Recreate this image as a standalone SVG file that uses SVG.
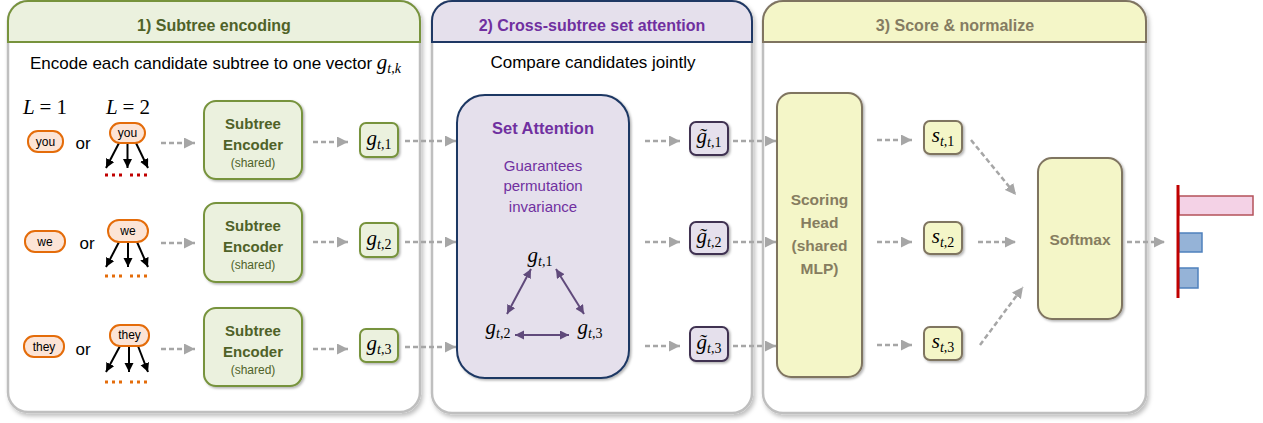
<svg xmlns="http://www.w3.org/2000/svg" width="1263" height="423" viewBox="0 0 1263 423">
<defs>
<filter id="sh" x="-10%" y="-10%" width="130%" height="130%"><feDropShadow dx="2" dy="3" stdDeviation="2" flood-color="#000" flood-opacity="0.25"/></filter>
<filter id="bs" x="-20%" y="-20%" width="150%" height="150%"><feDropShadow dx="1.5" dy="1.5" stdDeviation="1.2" flood-color="#000" flood-opacity="0.3"/></filter>
<marker id="ga" markerUnits="userSpaceOnUse" markerWidth="12" markerHeight="11" refX="11" refY="5.5" orient="auto"><path d="M0,0 L11,5.5 L0,11 Z" fill="#A6A6A6"/></marker>
<marker id="ka" markerUnits="userSpaceOnUse" markerWidth="10" markerHeight="10" refX="9" refY="4.5" orient="auto"><path d="M0,0 L9,4.5 L0,9 Z" fill="#000"/></marker>
<marker id="pa" markerUnits="userSpaceOnUse" markerWidth="10" markerHeight="10" refX="9" refY="4.5" orient="auto-start-reverse"><path d="M0,0 L9,4.5 L0,9 Z" fill="#604A7B"/></marker>
</defs>
<style>
text{font-family:"Liberation Sans",Arial,sans-serif}
.panel{fill:#fff;stroke:#BFBFBF;stroke-width:2.5}
.t1{font-size:16px;font-weight:bold;fill:#4F6228;text-anchor:middle}
.t2{font-size:16px;font-weight:bold;fill:#7030A0;text-anchor:middle}
.t3{font-size:16px;font-weight:bold;fill:#857C62;text-anchor:middle}
.sub{font-size:17px;fill:#000}
.pill{fill:#FCE4D6;stroke:#E46C0A;stroke-width:2}
.pt{font-size:12px;fill:#000;text-anchor:middle}
.or{font-size:17px;fill:#000;text-anchor:middle}
.tree{stroke:#000;stroke-width:2;fill:none;marker-end:url(#ka)}
.dr{stroke:#C00000;stroke-width:3;stroke-dasharray:3 4;fill:none}
.do{stroke:#E46C0A;stroke-width:3;stroke-dasharray:3 4;fill:none}
.enc{fill:#EBF1DE;stroke:#77933C;stroke-width:2}
.et{font-size:15px;font-weight:bold;fill:#4F6228;text-anchor:middle}
.es{font-size:12px;fill:#4F6228;text-anchor:middle}
.gb{fill:#EBF1DE;stroke:#77933C;stroke-width:2}
.gt{fill:#E5E0EC;stroke:#3F3151;stroke-width:2}
.sb{fill:#F4F6C8;stroke:#7F7460;stroke-width:2}
.m{font-family:"Liberation Serif","DejaVu Serif",serif;font-style:italic;font-size:21px;fill:#000;text-anchor:middle}
.s{font-size:14px}
.n{font-style:normal}
.conn{stroke:#A6A6A6;stroke-width:2.5;stroke-dasharray:5 3;fill:none;marker-end:url(#ga)}
.pl{stroke:#604A7B;stroke-width:2;fill:none;marker-start:url(#pa);marker-end:url(#pa)}
.pur{font-size:15px;fill:#7030A0;text-anchor:middle}
.yt{font-size:15.5px;font-weight:bold;fill:#867D60;text-anchor:middle}
</style>
<rect width="1263" height="423" fill="#fff"/>

<g id="panel1">
<rect class="panel" x="8" y="1" width="412" height="411" rx="20" filter="url(#sh)"/>
<path d="M8,42 V21 A20,20 0 0 1 28,1 H400 A20,20 0 0 1 420,21 V42 Z" fill="#EBF1DE" stroke="#77933C" stroke-width="2"/>
<text class="t1" x="214" y="31">1) Subtree encoding</text>
<text class="sub" x="30" y="69">Encode each candidate subtree to one vector <tspan class="m" font-size="21">g<tspan class="s" dy="4">t<tspan class="n">,</tspan>k</tspan></tspan></text>
<text class="m" x="45" y="114" font-size="16.5">L <tspan class="n">= 1</tspan></text>
<text class="m" x="128" y="114" font-size="16.5">L <tspan class="n">= 2</tspan></text>
</g>
<g id="panel2">
<rect class="panel" x="432" y="1" width="320" height="412" rx="20" filter="url(#sh)"/>
<path d="M432,42 V21 A20,20 0 0 1 452,1 H732 A20,20 0 0 1 752,21 V42 Z" fill="#E5E0EC" stroke="#1F3864" stroke-width="2"/>
<text class="t2" x="592" y="31">2) Cross-subtree set attention</text>
<text class="sub" x="593" y="68" text-anchor="middle">Compare candidates jointly</text>
</g>
<g id="panel3">
<rect class="panel" x="763" y="1" width="383" height="412" rx="20" filter="url(#sh)"/>
<path d="M763,42 V21 A20,20 0 0 1 783,1 H1126 A20,20 0 0 1 1146,21 V42 Z" fill="#F4F6C8" stroke="#7F7460" stroke-width="2"/>
<text class="t3" x="955" y="31">3) Score &amp; normalize</text>
</g>

<g id="inputs">
<g id="in1">
<rect class="pill" x="28" y="131" width="35" height="21" rx="10"/><text class="pt" x="45.5" y="146">you</text>
<text class="or" x="83" y="149">or</text>
<line class="tree" x1="119" y1="143" x2="106" y2="168"/><line class="tree" x1="127.5" y1="143" x2="127.5" y2="168"/><line class="tree" x1="136" y1="143" x2="148" y2="168"/>
<rect class="pill" x="110" y="123" width="35" height="20" rx="10"/><text class="pt" x="127.5" y="137">you</text>
<path class="dr" d="M105,175 H122 M130,175 H147"/>
</g>
<g id="in2">
<rect class="pill" x="25" y="231" width="40" height="21" rx="10"/><text class="pt" x="45" y="246">we</text>
<text class="or" x="87" y="249">or</text>
<line class="tree" x1="119" y1="242" x2="106" y2="267"/><line class="tree" x1="128" y1="242" x2="128" y2="267"/><line class="tree" x1="137" y1="242" x2="148" y2="267"/>
<rect class="pill" x="108" y="220" width="40" height="22" rx="11"/><text class="pt" x="128" y="235">we</text>
<path class="do" d="M105,276 H122 M130,276 H147"/>
</g>
<g id="in3">
<rect class="pill" x="24" y="336" width="40" height="21" rx="10"/><text class="pt" x="44" y="351">they</text>
<text class="or" x="83" y="355">or</text>
<line class="tree" x1="120" y1="346" x2="106" y2="372"/><line class="tree" x1="129" y1="346" x2="129" y2="372"/><line class="tree" x1="138" y1="346" x2="148" y2="372"/>
<rect class="pill" x="110" y="325" width="39" height="21" rx="10"/><text class="pt" x="129.5" y="339">they</text>
<path class="do" d="M105,382 H122 M130,382 H147"/>
</g>
</g>

<g id="encoder1"><rect class="enc" x="204" y="101" width="98" height="78" rx="12" filter="url(#bs)"/>
<text class="et" x="253" y="129">Subtree</text><text class="et" x="253" y="150">Encoder</text><text class="es" x="253" y="167">(shared)</text></g>
<g id="encoder2"><rect class="enc" x="204" y="203" width="98" height="79" rx="12" filter="url(#bs)"/>
<text class="et" x="253" y="231">Subtree</text><text class="et" x="253" y="252">Encoder</text><text class="es" x="253" y="269">(shared)</text></g>
<g id="encoder3"><rect class="enc" x="204" y="308" width="98" height="78" rx="12" filter="url(#bs)"/>
<text class="et" x="253" y="336">Subtree</text><text class="et" x="253" y="357">Encoder</text><text class="es" x="253" y="374">(shared)</text></g>

<g id="g1"><rect class="gb" x="360" y="123" width="38" height="34" rx="6" filter="url(#bs)"/><text class="m" x="379" y="145">g<tspan class="s" dy="4">t<tspan class="n">,1</tspan></tspan></text></g>
<g id="g2"><rect class="gb" x="360" y="223" width="38" height="34" rx="6" filter="url(#bs)"/><text class="m" x="379" y="245">g<tspan class="s" dy="4">t<tspan class="n">,2</tspan></tspan></text></g>
<g id="g3"><rect class="gb" x="360" y="329" width="38" height="33" rx="6" filter="url(#bs)"/><text class="m" x="379" y="350">g<tspan class="s" dy="4">t<tspan class="n">,3</tspan></tspan></text></g>

<g id="setattention">
<rect x="457" y="95" width="172" height="283" rx="28" fill="#E5E0EC" stroke="#1F3864" stroke-width="2" filter="url(#bs)"/>
<text x="543" y="134" font-size="16.5" font-weight="bold" fill="#7030A0" text-anchor="middle">Set Attention</text>
<text class="pur" x="543" y="171">Guarantees</text>
<text class="pur" x="543" y="191">permutation</text>
<text class="pur" x="543" y="212">invariance</text>
<text class="m" x="540" y="262">g<tspan class="s" dy="4">t<tspan class="n">,1</tspan></tspan></text>
<text class="m" x="498" y="334">g<tspan class="s" dy="4">t<tspan class="n">,2</tspan></tspan></text>
<text class="m" x="590" y="334">g<tspan class="s" dy="4">t<tspan class="n">,3</tspan></tspan></text>
<path class="pl" d="M531,269 L507,314"/>
<path class="pl" d="M556,269 L584,314"/>
<path class="pl" d="M515,335 L569,335"/>
</g>

<g id="gt1"><rect class="gt" x="690" y="122" width="38" height="33" rx="6" filter="url(#bs)"/><text class="m" x="709" y="143">g&#771;<tspan class="s" dy="4">t<tspan class="n">,1</tspan></tspan></text></g>
<g id="gt2"><rect class="gt" x="690" y="222" width="38" height="32" rx="6" filter="url(#bs)"/><text class="m" x="709" y="243">g&#771;<tspan class="s" dy="4">t<tspan class="n">,2</tspan></tspan></text></g>
<g id="gt3"><rect class="gt" x="690" y="327" width="38" height="34" rx="6" filter="url(#bs)"/><text class="m" x="709" y="349">g&#771;<tspan class="s" dy="4">t<tspan class="n">,3</tspan></tspan></text></g>

<g id="scoring">
<rect x="777" y="93" width="85" height="284" rx="14" fill="#F4F6C8" stroke="#7F7460" stroke-width="2" filter="url(#bs)"/>
<text class="yt" x="819.5" y="205">Scoring</text>
<text class="yt" x="819.5" y="228">Head</text>
<text class="yt" x="819.5" y="251">(shared</text>
<text class="yt" x="819.5" y="274">MLP)</text>
</g>

<g id="s1"><rect class="sb" x="924" y="121" width="38" height="33" rx="6" filter="url(#bs)"/><text class="m" x="943" y="142">s<tspan class="s" dy="4">t<tspan class="n">,1</tspan></tspan></text></g>
<g id="s2"><rect class="sb" x="924" y="222" width="38" height="32" rx="6" filter="url(#bs)"/><text class="m" x="943" y="243">s<tspan class="s" dy="4">t<tspan class="n">,2</tspan></tspan></text></g>
<g id="s3"><rect class="sb" x="924" y="327" width="38" height="33" rx="6" filter="url(#bs)"/><text class="m" x="943" y="348">s<tspan class="s" dy="4">t<tspan class="n">,3</tspan></tspan></text></g>

<g id="softmax">
<rect x="1038" y="158" width="84" height="161" rx="14" fill="#F4F6C8" stroke="#7F7460" stroke-width="2" filter="url(#bs)"/>
<text class="yt" x="1080" y="245" font-size="16">Softmax</text>
</g>

<g id="distribution">
<rect x="1179" y="196" width="74" height="19" fill="#F4D2E6" stroke="#B4525A" stroke-width="1.5"/>
<rect x="1179" y="233" width="23" height="19" fill="#95B3D7" stroke="#4F81BD" stroke-width="1.5"/>
<rect x="1179" y="268" width="19" height="20" fill="#95B3D7" stroke="#4F81BD" stroke-width="1.5"/>
<line x1="1178" y1="185" x2="1178" y2="298" stroke="#C00000" stroke-width="3"/>
</g>

<g id="connectors">
<path class="conn" d="M161,143 H195"/>
<path class="conn" d="M161,243 H195"/>
<path class="conn" d="M161,349 H195"/>
<path class="conn" d="M313,142 H348"/>
<path class="conn" d="M313,242 H348"/>
<path class="conn" d="M313,349 H348"/>
<path class="conn" d="M405,141 H456"/>
<path class="conn" d="M405,242 H456"/>
<path class="conn" d="M405,347 H456"/>
<path class="conn" d="M645,141 H680"/>
<path class="conn" d="M645,242 H680"/>
<path class="conn" d="M645,346 H680"/>
<path class="conn" d="M733,141 H776"/>
<path class="conn" d="M733,242 H776"/>
<path class="conn" d="M733,346 H776"/>
<path class="conn" d="M877,140 H912"/>
<path class="conn" d="M877,242 H912"/>
<path class="conn" d="M877,345 H912"/>
<path class="conn" d="M971,140 L1016,195"/>
<path class="conn" d="M978,242 H1016"/>
<path class="conn" d="M980,345 L1023,287"/>
<path class="conn" d="M1127,242 H1165"/>
</g>
</svg>
